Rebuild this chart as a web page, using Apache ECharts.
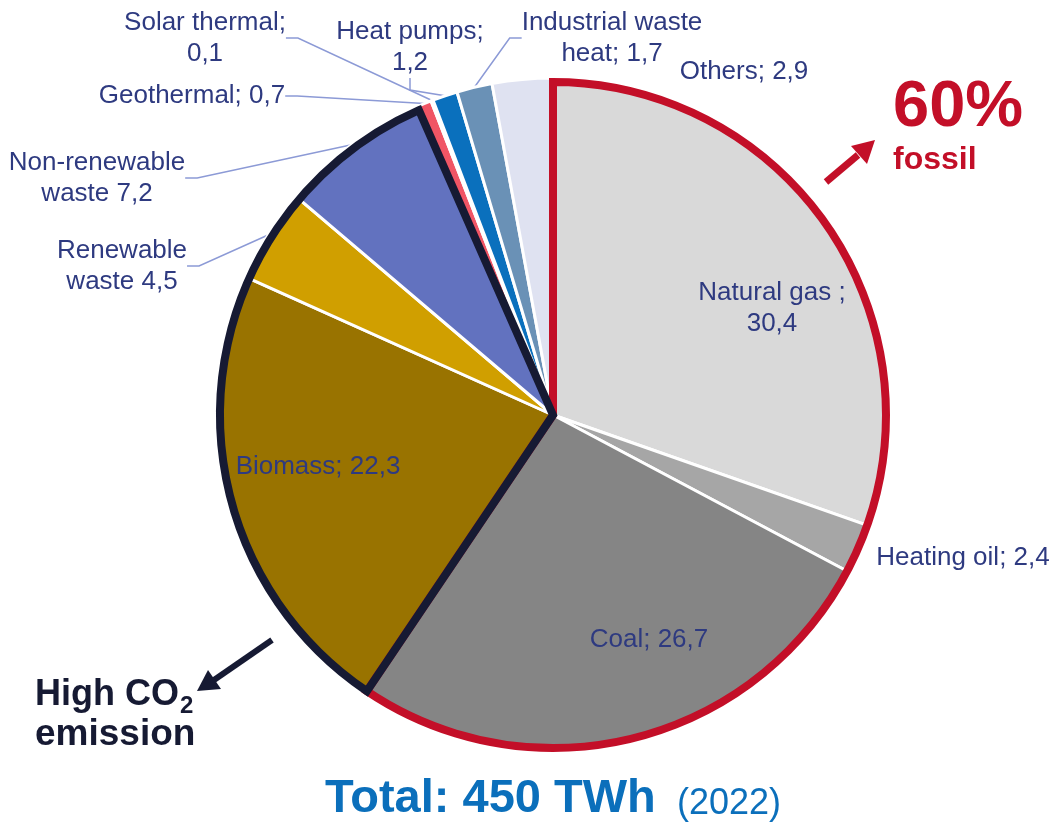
<!DOCTYPE html>
<html>
<head>
<meta charset="utf-8">
<script src="https://cdn.jsdelivr.net/npm/echarts@6/dist/echarts.min.js"></script>
<style>html,body{margin:0;padding:0;background:#fff;}#c{width:1054px;height:827px;}</style>
</head>
<body>
<div id="c"></div>
<script>
// ---- data ----
const categories = ['Natural gas', 'Heating oil', 'Coal', 'Biomass', 'Renewable waste', 'Non-renewable waste', 'Geothermal', 'Solar thermal', 'Heat pumps', 'Industrial waste heat', 'Others'];
const values = [30.4, 2.4, 26.7, 22.3, 4.5, 7.2, 0.7, 0.1, 1.2, 1.7, 2.9];
const labelPrefixes = ['Natural gas ;\n', 'Heating oil; ', 'Coal; ', 'Biomass; ', 'Renewable\nwaste ', 'Non-renewable\nwaste ', 'Geothermal; ', 'Solar thermal;\n', 'Heat pumps;\n', 'Industrial waste\nheat; ', 'Others; '];
const fossilIdx = [0, 1, 2];
const highCO2Idx = [3, 4, 5];
const totalText = 'Total: 450 TWh';
const yearText = '(2022)';

// ---- styles ----
const colors = ['#d9d9d9', '#a6a6a6', '#858585', '#997300', '#d09f00', '#6272bf', '#f05565', '#ffc000', '#0a70bd', '#6a91b6', '#dfe2f1'];
const insideIdx = [0, 2, 3];
const noLineIdx = [0, 1, 2, 3, 10];
const labelPos = {
  0: [772, 308], 1: [963, 558], 2: [649, 640], 3: [318, 467],
  4: [122, 266], 5: [97, 178], 6: [192, 96], 7: [205, 38],
  8: [410, 47], 9: [612, 38], 10: [744, 72]
};
const LBL = '#2e3a80';
const RED = '#c30f28';
const DARK = '#161a33';
const BLUE = '#0b6fbb';
const FAM = '"Liberation Sans", Arial, sans-serif';
const CX = 553, CY = 415, R = 337;

const sum = idx => idx.reduce((s, i) => s + values[i], 0);
const total = values.reduce((a, b) => a + b, 0);
const fossil = sum(fossilIdx), high = sum(highCO2Idx);
const fossilPct = Math.round(Math.round(fossil * 10) / 10);

const measure = (t, f) => {
  const ctx = document.createElement('canvas').getContext('2d');
  ctx.font = f; return ctx.measureText(t).width;
};
const coFont = 'bold 36px ' + FAM;
const coW = measure('High CO', coFont);

const chart = echarts.init(document.getElementById('c'), null, {renderer: 'canvas'});

const pieData = categories.map((n, i) => ({
  name: n,
  value: values[i],
  itemStyle: {color: colors[i]},
  label: {position: insideIdx.includes(i) ? 'inside' : 'outside'},
  labelLine: {show: !noLineIdx.includes(i)}
}));

chart.setOption({
  animation: false,
  series: [
    {
      type: 'pie',
      center: [CX, CY],
      radius: [0, R],
      startAngle: 90,
      clockwise: true,
      avoidLabelOverlap: false,
      itemStyle: {borderColor: '#fff', borderWidth: 3},
      label: {
        color: LBL, fontFamily: FAM, fontSize: 26, lineHeight: 31, align: 'center',
        formatter: p => labelPrefixes[p.dataIndex] + values[p.dataIndex].toFixed(1).replace('.', ',')
      },
      labelLine: {lineStyle: {color: '#8c9ad6', width: 1.5}, length: 10, length2: 12, smooth: false},
      labelLayout: p => ({
        x: labelPos[p.dataIndex][0], y: labelPos[p.dataIndex][1],
        align: 'center', verticalAlign: 'middle', hideOverlap: false, moveOverlap: null
      }),
      emphasis: {disabled: true},
      data: pieData,
      z: 1
    },
    {
      type: 'pie',
      center: [CX, CY],
      radius: [0, R - 4],
      startAngle: 90,
      clockwise: true,
      silent: true,
      label: {show: false},
      labelLine: {show: false},
      emphasis: {disabled: true},
      data: [
        {value: fossil, itemStyle: {color: 'transparent', borderColor: RED, borderWidth: 8, borderJoin: 'miter'}},
        {value: high, itemStyle: {color: 'transparent', borderColor: DARK, borderWidth: 8, borderJoin: 'miter'}},
        {value: total - fossil - high, itemStyle: {color: 'transparent', borderWidth: 0}}
      ],
      z: 2
    }
  ],
  graphic: [
    {type: 'text', left: 893, top: 76, style: {text: fossilPct + '%', fill: RED, font: 'bold 65px ' + FAM}},
    {type: 'text', left: 893, top: 144, style: {text: 'fossil', fill: RED, font: 'bold 32px ' + FAM}},
    {type: 'line', shape: {x1: 826, y1: 182, x2: 858, y2: 155}, style: {stroke: RED, lineWidth: 7}},
    {type: 'polygon', shape: {points: [[875, 140], [867, 164], [851, 146]]}, style: {fill: RED}},
    {type: 'line', shape: {x1: 272, y1: 640, x2: 214, y2: 680}, style: {stroke: DARK, lineWidth: 6}},
    {type: 'polygon', shape: {points: [[197, 691], [208, 670], [221, 689]]}, style: {fill: DARK}},
    {type: 'text', left: 35, top: 677, style: {text: 'High CO', fill: DARK, font: coFont}},
    {type: 'text', left: 35 + coW + 1, top: 694, style: {text: '2', fill: DARK, font: 'bold 24px ' + FAM}},
    {type: 'text', left: 35, top: 716, style: {text: 'emission', fill: DARK, font: 'bold 37px ' + FAM}},
    {type: 'text', left: 325, top: 776, style: {text: totalText, fill: BLUE, font: 'bold 47px ' + FAM}},
    {type: 'text', left: 677, top: 786, style: {text: yearText, fill: BLUE, font: '36px ' + FAM}}
  ]
});
</script>
</body>
</html>
